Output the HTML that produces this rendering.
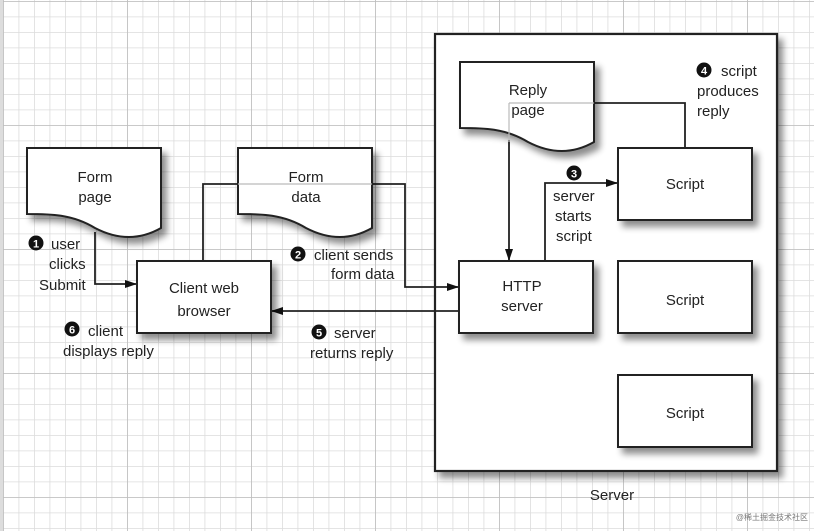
<!DOCTYPE html>
<html><head><meta charset="utf-8"><style>
body{margin:0;background:#fff}
svg{display:block}
text{font-family:"Liberation Sans",sans-serif;font-size:15px;fill:#222}
</style></head><body>
<svg width="814" height="531" viewBox="0 0 814 531" xmlns="http://www.w3.org/2000/svg">
<defs>
<pattern id="minor" x="3" y="1" width="15.5" height="15.5" patternUnits="userSpaceOnUse">
<path d="M0 0V15.5M0 0H15.5" stroke="#dcdcdc" stroke-width="1.6" fill="none"/>
</pattern>
<pattern id="major" x="3" y="1" width="124" height="124" patternUnits="userSpaceOnUse">
<path d="M0 0V124M0 0H124" stroke="#bdbdbd" stroke-width="1.6" fill="none"/>
</pattern>
<filter id="sh" x="-20%" y="-20%" width="150%" height="160%">
<feGaussianBlur in="SourceAlpha" stdDeviation="3.5"/>
<feOffset dx="5" dy="6"/>
<feComponentTransfer><feFuncA type="linear" slope="0.45"/></feComponentTransfer>
<feMerge><feMergeNode/><feMergeNode in="SourceGraphic"/></feMerge>
</filter>
<marker id="ar" markerWidth="12" markerHeight="8" refX="12" refY="4" orient="auto" markerUnits="userSpaceOnUse">
<path d="M0 0L12 4L0 8z" fill="#111"/>
</marker>
</defs>
<rect width="814" height="531" fill="url(#minor)"/>
<rect width="814" height="531" fill="url(#major)"/>
<rect x="0" y="0" width="3" height="531" fill="#ddd"/>

<rect x="435" y="34" width="342" height="437" fill="#fff" stroke="#222" stroke-width="2.2" filter="url(#sh)"/>

<g fill="none" stroke="#222" stroke-width="1.8">
<path d="M203 261V184H238"/>
<path d="M372 184H405V287H459" marker-end="url(#ar)"/>
<path d="M95 232V284H137" marker-end="url(#ar)"/>
<path d="M459 311H271" marker-end="url(#ar)"/>
<path d="M594 103H685V148"/>
<path d="M509 140V261" marker-end="url(#ar)"/>
<path d="M545 261V183H618" marker-end="url(#ar)"/>
</g>

<g fill="#fff" stroke="#222" stroke-width="2" filter="url(#sh)">
<path d="M27 148H161V228C140 240 118 240 95 228C72 214 50 214 27 214Z"/>
<path d="M238 148H372V228C351 240 329 240 306 228C283 214 261 214 238 214Z"/>
<path d="M460 62H594V142C573 154 551 154 528 142C505 128 483 128 460 128Z"/>
</g>
<g stroke="#bbb" stroke-width="1.2" fill="none">
<path d="M238 184H372"/>
<path d="M509 103H594M509 103V142"/>
</g>

<g fill="#fff" stroke="#222" stroke-width="2" filter="url(#sh)">
<rect x="137" y="261" width="134" height="72"/>
<rect x="459" y="261" width="134" height="72"/>
<rect x="618" y="148" width="134" height="72"/>
<rect x="618" y="261" width="134" height="72"/>
<rect x="618" y="375" width="134" height="72"/>
</g>

<g text-anchor="middle">
<text x="95" y="182">Form</text><text x="95" y="202">page</text>
<text x="306" y="182">Form</text><text x="306" y="202">data</text>
<text x="528" y="95">Reply</text><text x="528" y="115">page</text>
<text x="204" y="293">Client web</text><text x="204" y="316">browser</text>
<text x="522" y="291">HTTP</text><text x="522" y="311">server</text>
<text x="685" y="189">Script</text>
<text x="685" y="305">Script</text>
<text x="685" y="418">Script</text>
<text x="612" y="500">Server</text>
</g>

<g font-weight="bold">
<circle cx="36" cy="243" r="7.5" fill="#111"/><text x="36" y="247.5" text-anchor="middle" style="fill:#fff;font-size:11px;font-weight:bold">1</text>
<circle cx="298" cy="254" r="7.5" fill="#111"/><text x="298" y="258.5" text-anchor="middle" style="fill:#fff;font-size:11px;font-weight:bold">2</text>
<circle cx="574" cy="173" r="7.5" fill="#111"/><text x="574" y="177.5" text-anchor="middle" style="fill:#fff;font-size:11px;font-weight:bold">3</text>
<circle cx="704" cy="70" r="7.5" fill="#111"/><text x="704" y="74.5" text-anchor="middle" style="fill:#fff;font-size:11px;font-weight:bold">4</text>
<circle cx="319" cy="332" r="7.5" fill="#111"/><text x="319" y="336.5" text-anchor="middle" style="fill:#fff;font-size:11px;font-weight:bold">5</text>
<circle cx="72" cy="329" r="7.5" fill="#111"/><text x="72" y="333.5" text-anchor="middle" style="fill:#fff;font-size:11px;font-weight:bold">6</text>
</g>

<text x="51" y="249">user</text>
<text x="49" y="269">clicks</text>
<text x="39" y="290">Submit</text>
<text x="314" y="260">client sends</text>
<text x="331" y="279">form data</text>
<text x="553" y="201">server</text>
<text x="555" y="221">starts</text>
<text x="556" y="241">script</text>
<text x="721" y="76">script</text>
<text x="697" y="96">produces</text>
<text x="697" y="116">reply</text>
<text x="334" y="338">server</text>
<text x="310" y="358">returns reply</text>
<text x="88" y="336">client</text>
<text x="63" y="356">displays reply</text>
<text x="808" y="520" text-anchor="end" style="font-family:'Liberation Sans','Noto Sans CJK SC',sans-serif;font-size:8px;fill:#777">@稀土掘金技术社区</text>
</svg>
</body></html>
